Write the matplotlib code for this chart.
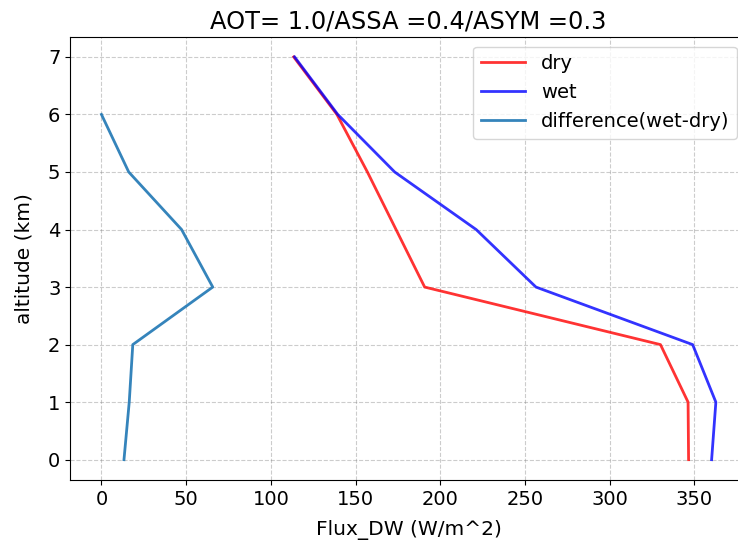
import numpy as np
import matplotlib
matplotlib.use("Agg")
import matplotlib.pyplot as plt

# downward flux profiles (W/m^2) at each altitude level (km)
altitude = [0, 1, 2, 3, 4, 5, 6, 7]
flux_dry = [346.6, 346.3, 330.0, 190.8, 173.9, 157.0, 139.0, 113.5]
flux_wet = [360.2, 362.7, 349.0, 256.5, 221.2, 173.1, 139.5, 114.0]
diff_alt = [0, 1, 2, 3, 4, 5, 6]
flux_diff = [13.3, 16.4, 18.5, 65.7, 47.3, 16.1, 0.0]

plt.rcParams['font.size'] = 14.5
plt.rcParams['xtick.labelsize'] = 14
plt.rcParams['ytick.labelsize'] = 14

fig = plt.figure(figsize=(7.38, 5.49), dpi=100)
ax = fig.add_axes([0.095, 0.126, 0.917, 0.807])

ax.plot(flux_dry, altitude, color='r', alpha=0.8, lw=2, label='dry')
ax.plot(flux_wet, altitude, color='b', alpha=0.8, lw=2, label='wet')
ax.plot(flux_diff, diff_alt, color='C0', alpha=0.9, lw=2, label='difference(wet-dry)')

ax.set_xlim(-18.5, 381)
ax.set_xticks(np.arange(0, 351, 50))
ax.grid(True, linestyle='--', color='gray', alpha=0.4)
ax.set_xlabel('Flux_DW (W/m^2)', labelpad=8)
ax.set_ylabel('altitude (km)', labelpad=10)
ax.set_title('AOT= 1.0/ASSA =0.4/ASYM =0.3', fontsize=17.4)
ax.legend(loc='upper right', fontsize=14, handlelength=2.3)

fig.savefig('out.png', dpi=100)
